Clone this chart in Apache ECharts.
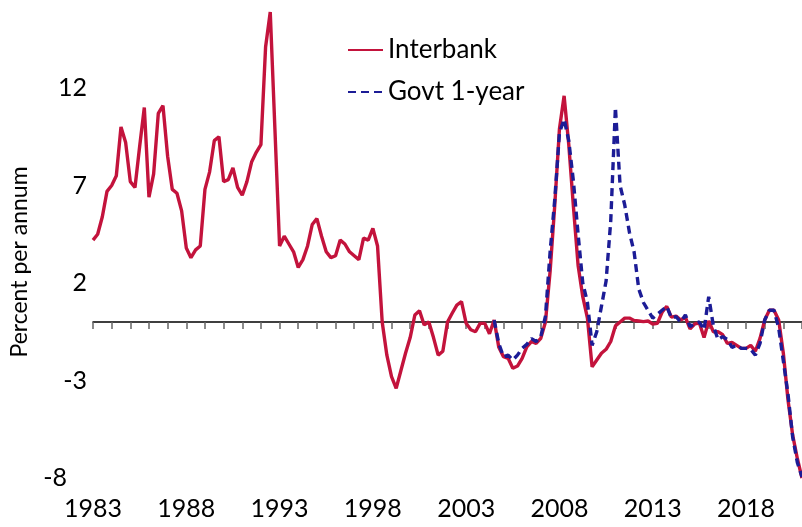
<!DOCTYPE html>
<html>
<head>
<meta charset="utf-8">
<script src="https://cdn.jsdelivr.net/npm/echarts@6/dist/echarts.min.js"></script>
<style>
  html, body { margin: 0; padding: 0; background: #fff; }
  #chart { width: 802px; height: 527px; }
</style>
</head>
<body>
<div id="chart"></div>
<script>
// quarterly series, first point is 1983 Q1
const startYear = 1983
const endYear = 2021
// govt 1-year series starts at this quarter index
const govtStart = 86

const interbank = [
  4.2, 4.5, 5.4, 6.7, 7.0, 7.5, 10.0, 9.2, 7.2, 6.9,
  9.0, 11.0, 6.4, 7.6, 10.7, 11.1, 8.5, 6.8, 6.6, 5.7,
  3.8, 3.3, 3.7, 3.9, 6.8, 7.7, 9.3, 9.5, 7.2, 7.3,
  7.9, 6.9, 6.5, 7.2, 8.2, 8.7, 9.1, 14.1, 15.9, 9.9,
  3.9, 4.4, 4.0, 3.6, 2.8, 3.2, 3.9, 5.0, 5.3, 4.4,
  3.6, 3.3, 3.4, 4.2, 4.0, 3.6, 3.4, 3.2, 4.3, 4.2,
  4.8, 3.9, 0.0, -1.7, -2.8, -3.4, -2.5, -1.6, -0.8, 0.36,
  0.58, -0.15, 0.0, -0.8, -1.7, -1.5, 0.0, 0.45, 0.87, 1.04,
  -0.07, -0.4, -0.5, -0.07, -0.07, -0.6, 0.1, -1.3, -1.78, -1.86,
  -2.37, -2.26, -1.86, -1.27, -1.0, -1.1, -0.84, 0.0, 2.6, 6.0,
  9.9, 11.6, 9.1, 5.9, 2.9, 1.3, 0.2, -2.3, -1.95, -1.6,
  -1.4, -1.0, -0.2, 0.0, 0.2, 0.2, 0.08, 0.05, 0.02, 0.05,
  -0.1, -0.07, 0.5, 0.8, 0.25, 0.3, 0.1, 0.24, -0.35, -0.1,
  -0.05, -0.8, 0.05, -0.5, -0.5, -0.65, -1.1, -1.05, -1.2, -1.35,
  -1.35, -1.2, -1.5, -0.84, 0.1, 0.6, 0.6, 0.1, -1.6, -4.0,
  -5.8, -7.0, -8.0
]

const govt = [
  0.1, -1.1, -1.78, -1.7, -1.95, -1.7, -1.35, -1.15, -0.85, -1.0,
  -0.75, 0.3, 3.6, 6.3, 9.7, 10.4, 9.3, 7.2, 4.5, 2.0,
  1.0, -1.2, -0.5, 0.8, 2.1, 5.2, 11.0, 7.0, 6.0, 4.6,
  3.6, 1.7, 1.0, 0.6, 0.2, 0.4, 0.6, 0.8, 0.2, 0.27,
  0.0, 0.36, -0.24, -0.07, 0.0, -0.4, 1.3, -0.2, -0.9, -0.75,
  -0.9, -1.3, -1.2, -1.35, -1.35, -1.4, -1.7, -1.1, 0.1, 0.6,
  0.6, -0.3, -2.0, -3.7, -5.9, -7.2, -7.95
]

const toPoints = (values, offset) => values.map((v, i) => [startYear + (i + offset) / 4, v])

const fontFamily = 'Lato, "Open Sans", sans-serif'

let option = {
  animation: false,
  textStyle: { fontFamily: fontFamily },
  grid: {
    left: 93,
    right: 0,
    top: 10,
    bottom: 49
  },
  legend: {
    orient: 'vertical',
    left: 342,
    top: 32,
    itemWidth: 35,
    itemHeight: 12,
    itemGap: 16,
    itemStyle: { opacity: 0 },
    textStyle: {
      fontFamily: fontFamily,
      fontSize: 26,
      color: '#000'
    },
    data: ['Interbank', 'Govt 1-year']
  },
  xAxis: [
    {
      // year labels along the bottom
      type: 'value',
      min: startYear,
      max: endYear,
      interval: 5,
      axisLine: { show: false, onZero: false },
      axisTick: { show: false },
      splitLine: { show: false },
      axisLabel: {
        color: '#000',
        fontSize: 25,
        margin: 18,
        showMaxLabel: false,
        formatter: v => String(v)
      }
    },
    {
      // line through zero with a tick per year
      type: 'value',
      min: startYear,
      max: endYear,
      interval: 1,
      axisLine: {
        onZero: true,
        onZeroAxisIndex: 0,
        lineStyle: { color: '#000', width: 1.5 }
      },
      axisTick: {
        inside: true,
        length: 7,
        lineStyle: { color: '#666', width: 1.5 }
      },
      axisLabel: { show: false },
      splitLine: { show: false }
    }
  ],
  yAxis: {
    type: 'value',
    min: -8,
    max: 16,
    interval: 5,
    name: 'Percent per annum',
    nameLocation: 'middle',
    nameGap: 62,
    nameTextStyle: {
      fontFamily: fontFamily,
      fontSize: 23,
      color: '#000',
      padding: [0, 36, 0, 0]
    },
    axisLine: { show: false },
    axisTick: { show: false },
    splitLine: { show: false },
    axisLabel: {
      color: '#000',
      fontSize: 25,
      margin: 6,
      showMaxLabel: false,
      formatter: v => v === -8 ? '{low|' + v + '}' : String(v),
      rich: {
        low: { fontSize: 25, padding: [0, 20, 0, 0] }
      }
    }
  },
  series: [
    {
      name: 'Interbank',
      type: 'line',
      xAxisIndex: 0,
      symbol: 'none',
      lineStyle: { color: '#c3133c', width: 3.4 },
      itemStyle: { color: '#c3133c' },
      data: toPoints(interbank, 0),
      z: 3
    },
    {
      name: 'Govt 1-year',
      type: 'line',
      xAxisIndex: 0,
      symbol: 'none',
      lineStyle: { color: '#1c1c96', width: 3.4, type: [8, 5] },
      itemStyle: { color: '#1c1c96' },
      data: toPoints(govt, govtStart),
      z: 4
    }
  ]
}

const myChart = echarts.init(document.getElementById('chart'))
myChart.setOption(option, true)
</script>
</body>
</html>
